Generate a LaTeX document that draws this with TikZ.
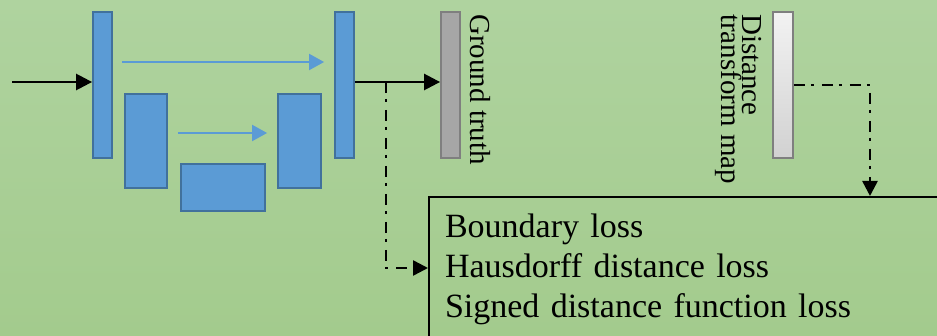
\documentclass[tikz,border=0pt]{standalone}
\usepackage{fontspec}
\setmainfont{Liberation Serif}
\usetikzlibrary{arrows.meta}
\definecolor{bgtop}{HTML}{AFD39F}
\definecolor{bgbot}{HTML}{A3CB8D}
\definecolor{netblue}{HTML}{5B9BD5}
\definecolor{netedge}{HTML}{41719C}
\definecolor{mapedge}{HTML}{7F7F7F}
\begin{document}
\begin{tikzpicture}[x=1pt, y=-1pt]
	\tikzstyle{block}=[rectangle, draw=netedge, fill=netblue, line width=1.8pt, inner sep=0pt]
	\tikzstyle{truth}=[rectangle, draw=mapedge, fill=black!35, line width=1.8pt, inner sep=0pt, minimum width=19pt, minimum height=146pt]
	\tikzstyle{dtmap}=[rectangle, draw=mapedge, top color=black!5, bottom color=black!18, line width=1.8pt, inner sep=0pt, minimum width=20pt, minimum height=146pt]
	\tikzstyle{vlabel}=[rotate=-90, anchor=base west, align=left, inner sep=0pt, font=\fontsize{29}{21}\selectfont]
	\tikzstyle{arrow}=[-{Triangle[length=16pt,width=16pt]}, line width=2.5pt]
	\tikzstyle{skip}=[-{Triangle[length=15pt,width=16pt]}, draw=netblue, line width=2pt]
	\tikzstyle{dashdot}=[-{Triangle[length=15pt,width=15pt]}, line width=2.5pt, dash pattern=on 11pt off 6pt on 3pt off 8pt]
	
	\useasboundingbox (0,0) rectangle (937,336);
	\shade[top color=bgtop, bottom color=bgbot] (0,0) rectangle (937,336);
	
	\draw node[block, minimum width=19pt, minimum height=146pt] at (102.5, 85) (enc1) {};
	\draw node[block, minimum width=42pt, minimum height=94pt] at (146, 141) (enc2) {};
	\draw node[block, minimum width=84pt, minimum height=47pt] at (223, 187.5) (mid) {};
	\draw node[block, minimum width=43pt, minimum height=94pt] at (299.5, 141) (dec2) {};
	\draw node[block, minimum width=19pt, minimum height=146pt] at (344.5, 85) (dec1) {};
	\draw node[truth] at (450.5, 85) (gt) {};
	\draw node[dtmap] at (783, 85) (dt) {};
	\draw node[vlabel] at (470, 14) (gtlabel) {Ground truth};
	\draw node[vlabel] at (721, 14) (dtlabel) {Distance\\transform map};
	\draw node[draw, line width=2pt, anchor=north west, align=left, text width=520pt, inner xsep=16pt, inner ysep=17pt, font=\fontsize{34}{40}\selectfont] at (428, 196) (loss) {Boundary loss\\Hausdorff distance loss\\Signed distance function loss};
	
	\coordinate (in) at (12, 82);
	\coordinate (split) at (386, 82);
	\draw [arrow] (in) -- (enc1.west |- in);
	\draw [arrow] (dec1.east |- in) -- (gt.west |- in);
	\draw [skip] ([shift={(9,-23)}]enc1.east) -- ([shift={(-10,-23)}]dec1.west);
	\draw [skip] ([shift={(10,-8)}]enc2.east) -- ([shift={(-10,-8)}]dec2.west);
	\draw [dashdot] (split) |- ([yshift=-72pt]loss.north west);
	\draw [dashdot] (dt.east) -| ([xshift=442pt]loss.north west);
\end{tikzpicture}
\end{document}
